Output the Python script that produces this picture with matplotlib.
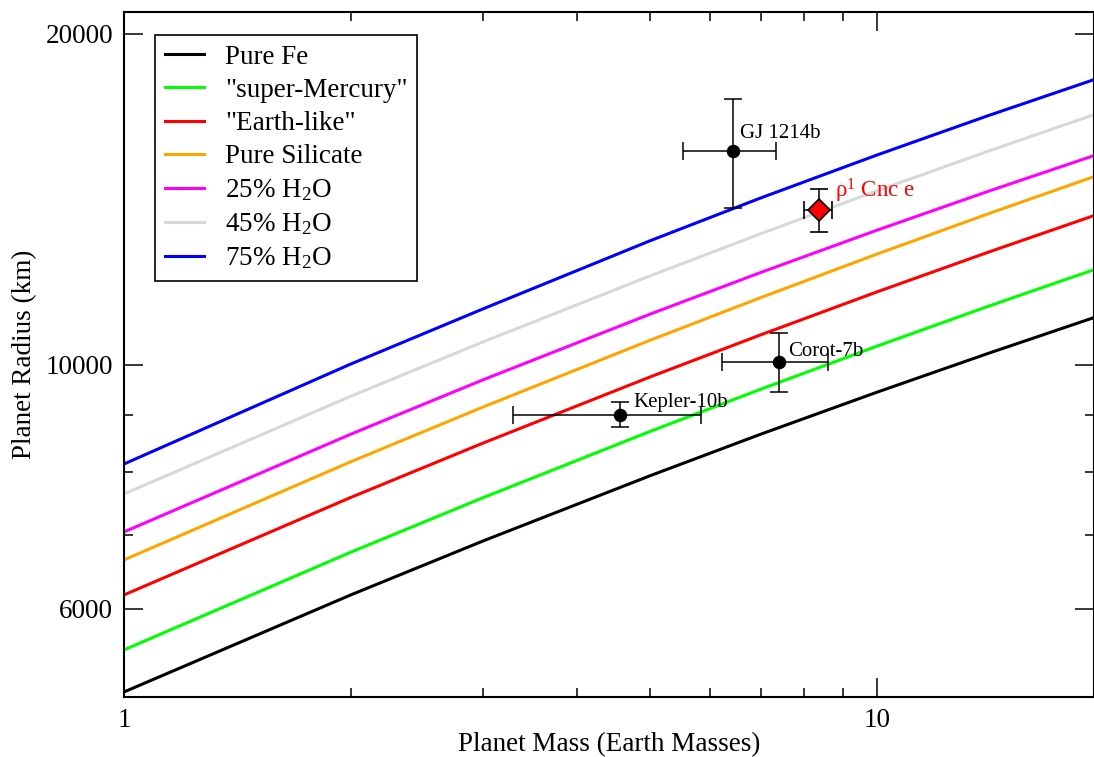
import numpy as np
import matplotlib
matplotlib.use("Agg")
import matplotlib.pyplot as plt
from matplotlib.ticker import FixedLocator, FixedFormatter, NullFormatter

plt.rcParams['font.family'] = ['Liberation Serif', 'DejaVu Serif']
plt.rcParams['mathtext.fontset'] = 'custom'
plt.rcParams['mathtext.rm'] = 'Liberation Serif'
plt.rcParams['mathtext.it'] = 'Liberation Serif:italic'

# Mass grid (Earth masses) and radii (km)
mass = [1, 2, 3, 5, 7, 10, 14, 19.5]
pure_fe = [5043, 6179, 6920, 7933, 8650, 9448, 10239, 11057]
super_mercury = [5507, 6757, 7576, 8704, 9504, 10404, 11300, 12223]
earth_like = [6179, 7578, 8494, 9756, 10650, 11656, 12655, 13689]
pure_silicate = [6649, 8166, 9160, 10535, 11513, 12616, 13715, 14853]
h2o_25 = [7050, 8651, 9697, 11127, 12136, 13263, 14376, 15521]
h2o_45 = [7634, 9366, 10498, 12055, 13161, 14403, 15635, 16912]
h2o_75 = [8128, 10020, 11250, 12975, 14185, 15524, 16844, 18197]

curve_labels = ['Pure Fe', '"super-Mercury"', '"Earth-like"', 'Pure Silicate',
                '25% H$_2$O', '45% H$_2$O', '75% H$_2$O']
curve_colors = ['black', '#00ff00', '#ff0000', '#ffa500', '#ff00ff', '#d8d8d8', '#0000ff']

# Planets: mass, mass low/high, radius, radius low/high
planet_names = ['GJ 1214b', 'Corot-7b', 'Kepler-10b']
planet_mass = [6.44, 7.41, 4.56]
planet_mass_lo = [5.53, 6.23, 3.28]
planet_mass_hi = [7.34, 8.61, 5.84]
planet_rad = [15650, 10063, 9006]
planet_rad_lo = [13890, 9451, 8783]
planet_rad_hi = [17450, 10692, 9255]

cnc_mass, cnc_mass_lo, cnc_mass_hi = 8.37, 8.0, 8.71
cnc_rad, cnc_rad_lo, cnc_rad_hi = 13830, 13210, 14455

fig = plt.figure(figsize=(10.94, 7.57), dpi=100)
ax = fig.add_axes([124/1094, 1 - 697/757, 1 - 124/1094, (697 - 12)/757])

curves = [pure_fe, super_mercury, earth_like, pure_silicate, h2o_25, h2o_45, h2o_75]
for r, lab, col in zip(curves, curve_labels, curve_colors):
    ax.plot(mass, r, color=col, lw=2.2, label=lab)

# planets with error bars
pm = np.array(planet_mass)
pr = np.array(planet_rad)
ax.errorbar(pm, pr,
            xerr=[pm - np.array(planet_mass_lo), np.array(planet_mass_hi) - pm],
            yerr=[pr - np.array(planet_rad_lo), np.array(planet_rad_hi) - pr],
            fmt='o', color='black', ms=8.7, elinewidth=1.1, capsize=6.5, capthick=1.1,
            zorder=5)
ax.errorbar([cnc_mass], [cnc_rad],
            xerr=[[cnc_mass - cnc_mass_lo], [cnc_mass_hi - cnc_mass]],
            yerr=[[cnc_rad - cnc_rad_lo], [cnc_rad_hi - cnc_rad]],
            fmt='D', mfc='#ff0000', mec='black', mew=1.2, ms=11, ecolor='black',
            elinewidth=1.1, capsize=6.5, capthick=1.1, zorder=6)

# labels next to the points
offsets = [(5, 9.5), (6.5, 4.3), (9.4, 5.8)]
for name, m, r, off in zip(planet_names, planet_mass, planet_rad, offsets):
    ax.annotate(name, (m, r), xytext=off, textcoords='offset points',
                fontsize=15, va='baseline')
ax.annotate('ρ$^1$ Cnc e', (cnc_mass, cnc_rad), xytext=(11.5, 9.4),
            textcoords='offset points', fontsize=16.5, color='#ff0000', va='baseline')

ax.set_xscale('log')
ax.set_yscale('log')
ax.set_xlim(1, 19.4)
ax.set_ylim(4990, 20940)

ax.xaxis.set_major_locator(FixedLocator([1, 10]))
ax.xaxis.set_major_formatter(FixedFormatter(['1', '10']))
ax.xaxis.set_minor_locator(FixedLocator([2, 3, 4, 5, 6, 7, 8, 9]))
ax.xaxis.set_minor_formatter(NullFormatter())
ax.yaxis.set_major_locator(FixedLocator([6000, 10000, 20000]))
ax.yaxis.set_major_formatter(FixedFormatter(['6000', '10000', '20000']))
ax.yaxis.set_minor_locator(FixedLocator([7000, 8000, 9000]))
ax.yaxis.set_minor_formatter(NullFormatter())

ax.tick_params(which='both', direction='in', top=True, right=True, labelsize=19.5)
ax.tick_params(which='major', length=13.5, width=1.1, pad=8)
ax.tick_params(which='minor', length=6.5, width=1.1)
for s in ax.spines.values():
    s.set_linewidth(1.5)

ax.set_xlabel('Planet Mass (Earth Masses)', fontsize=19.5, labelpad=-1)
ax.set_ylabel('Planet Radius (km)', fontsize=19.5, labelpad=5.5)

leg = ax.legend(loc='upper left', bbox_to_anchor=(0.032, 0.966), borderaxespad=0,
                fontsize=19.5, frameon=True, fancybox=False, framealpha=1,
                edgecolor='black', handlelength=1.45, handletextpad=0.78,
                labelspacing=0.3, borderpad=0.35)
leg.get_frame().set_linewidth(1.2)

fig.savefig('out.png', dpi=100)
